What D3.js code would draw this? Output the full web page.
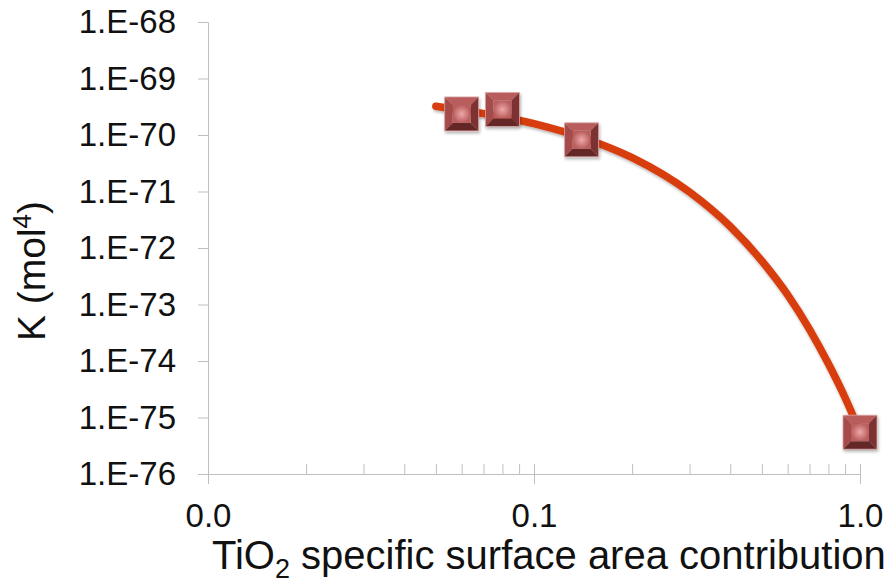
<!DOCTYPE html>
<html>
<head>
<meta charset="utf-8">
<script src="https://cdn.jsdelivr.net/npm/d3@7"></script>
<style>
  body { margin: 0; background: #fff; }
  svg { display: block; font-family: "Liberation Sans", Arial, sans-serif; }
</style>
</head>
<body>
<svg id="chart" width="888" height="583"></svg>
<script>
// measured points (x = TiO2 contribution, K in mol^4)
const pointX = [0.06, 0.08, 0.14, 1.0];
const pointK = [2.36e-70, 2.83e-70, 8.2e-71, 5.5e-76];

// trend line (x, log10 K)
const trendX = [0.05, 0.1, 0.15, 0.2, 0.3, 0.4, 0.5, 0.6, 0.7, 0.8, 0.9, 1.0];
const trendLogK = [-69.49, -69.80, -70.10, -70.40, -71.01, -71.62, -72.23, -72.83, -73.44, -74.05, -74.65, -75.26];

const yTicks = [1e-68, 1e-69, 1e-70, 1e-71, 1e-72, 1e-73, 1e-74, 1e-75, 1e-76];
const yTickLabels = ["1.E-68", "1.E-69", "1.E-70", "1.E-71", "1.E-72", "1.E-73", "1.E-74", "1.E-75", "1.E-76"];
const xMajor = [0.01, 0.1, 1];
const xMajorLabels = ["0.0", "0.1", "1.0"];
const xMinor = [0.02, 0.03, 0.04, 0.05, 0.06, 0.07, 0.08, 0.09, 0.2, 0.3, 0.4, 0.5, 0.6, 0.7, 0.8, 0.9];

const svg = d3.select("#chart");
const axisColor = "#bfbfbf";

const x = d3.scaleLog().domain([0.01, 1]).range([208, 860]);
const y = d3.scaleLog().domain([1e-76, 1e-68]).range([474, 22]);

const defs = svg.append("defs");
const grad = defs.append("radialGradient").attr("id", "face");
grad.append("stop").attr("offset", "0%").attr("stop-color", "#eea8a8");
grad.append("stop").attr("offset", "100%").attr("stop-color", "#b95d5d");
const shadow = defs.append("filter").attr("id", "shadow")
  .attr("x", "-20%").attr("y", "-20%").attr("width", "140%").attr("height", "140%");
shadow.append("feDropShadow")
  .attr("dx", 1).attr("dy", 2).attr("stdDeviation", 1.5)
  .attr("flood-color", "#000").attr("flood-opacity", 0.3);

// y axis
const yAxis = svg.append("g")
  .attr("transform", "translate(208,0)")
  .call(d3.axisLeft(y).tickValues(yTicks).tickSize(10).tickPadding(22)
    .tickFormat((d, i) => yTickLabels[i]));
yAxis.select(".domain").attr("stroke", axisColor);
yAxis.selectAll(".tick line").attr("stroke", axisColor);
yAxis.selectAll("text").attr("font-size", 33).attr("fill", "#111")
  .attr("font-family", "Liberation Sans, Arial, sans-serif");

// x axis: minor ticks point up, major ticks cross
const xMinorAxis = svg.append("g")
  .attr("transform", "translate(0,474)")
  .call(d3.axisBottom(x).tickValues(xMinor).tickSize(-10).tickFormat(""));
xMinorAxis.select(".domain").remove();
xMinorAxis.selectAll(".tick line").attr("stroke", axisColor);

const xAxis = svg.append("g")
  .attr("transform", "translate(0,474)")
  .call(d3.axisBottom(x).tickValues(xMajor).tickSizeInner(10).tickSizeOuter(0).tickPadding(20)
    .tickFormat((d, i) => xMajorLabels[i]));
xAxis.select(".domain").attr("stroke", axisColor).attr("d", "M198,0.5H860");
xAxis.selectAll(".tick line").attr("stroke", axisColor).attr("y1", -10);
xAxis.selectAll("text").attr("font-size", 33).attr("fill", "#111")
  .attr("font-family", "Liberation Sans, Arial, sans-serif");

// trend line
const line = d3.line()
  .x(d => x(d[0]))
  .y(d => y(Math.pow(10, d[1])))
  .curve(d3.curveMonotoneX);
svg.append("path")
  .datum(trendX.map((v, i) => [v, trendLogK[i]]))
  .attr("d", line)
  .attr("fill", "none")
  .attr("stroke", "#d83c0c")
  .attr("stroke-width", 7.5)
  .attr("stroke-linecap", "round")
  .attr("filter", "url(#shadow)");

// bevelled square markers
const s = 17, k = 8;
const bevels = [
  { pts: [[-s, -s], [s, -s], [s - k, -s + k], [-s + k, -s + k]], fill: "#b85c5c" },
  { pts: [[-s, -s], [-s + k, -s + k], [-s + k, s - k], [-s, s]], fill: "#a54c4c" },
  { pts: [[s, -s], [s, s], [s - k, s - k], [s - k, -s + k]], fill: "#7b3333" },
  { pts: [[-s, s], [-s + k, s - k], [s - k, s - k], [s, s]], fill: "#652828" }
];
const markers = svg.append("g").selectAll("g")
  .data(pointX.map((v, i) => [v, pointK[i]]))
  .join("g")
  .attr("transform", d => `translate(${x(d[0])},${y(d[1])})`)
  .attr("filter", "url(#shadow)");
markers.selectAll("polygon")
  .data(bevels)
  .join("polygon")
  .attr("points", d => d.pts.map(p => p.join(",")).join(" "))
  .attr("fill", d => d.fill);
markers.append("rect")
  .attr("x", -s + k).attr("y", -s + k)
  .attr("width", 2 * (s - k)).attr("height", 2 * (s - k))
  .attr("fill", "url(#face)");
markers.append("rect")
  .attr("x", -s).attr("y", -s).attr("width", 2 * s).attr("height", 2 * s)
  .attr("fill", "none").attr("stroke", "#d9a6a6").attr("stroke-width", 0.8);

// axis titles
const xTitle = svg.append("text")
  .attr("x", 212).attr("y", 569)
  .attr("font-size", 40).attr("fill", "#111");
xTitle.append("tspan").text("TiO");
xTitle.append("tspan").text("2").attr("font-size", 27).attr("dy", 9);
xTitle.append("tspan").text(" specific surface area contribution").attr("dy", -9);

const yTitle = svg.append("text")
  .attr("transform", "translate(45,271) rotate(-90)")
  .attr("text-anchor", "middle")
  .attr("font-size", 39).attr("fill", "#111");
yTitle.append("tspan").text("K (mol");
yTitle.append("tspan").text("4").attr("font-size", 26).attr("dy", -14);
yTitle.append("tspan").text(")").attr("dy", 14);
</script>
</body>
</html>
